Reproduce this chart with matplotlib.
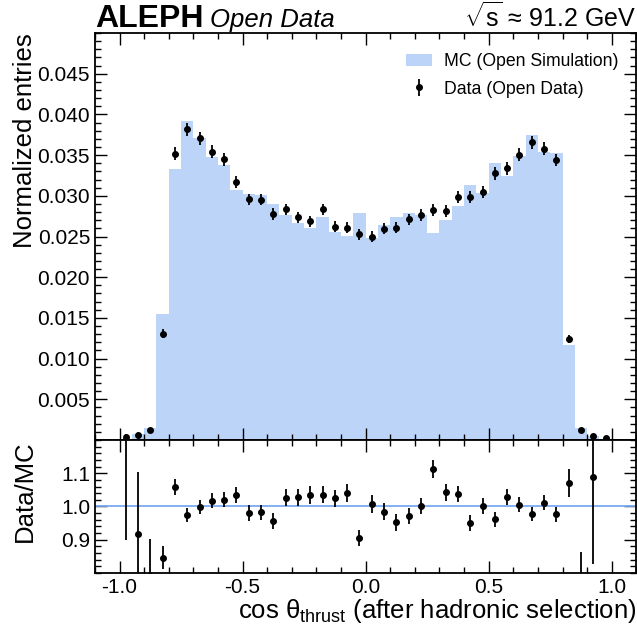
import numpy as np
import matplotlib
matplotlib.use("Agg")
import matplotlib.pyplot as plt
from matplotlib.ticker import MultipleLocator

plt.rcParams['font.family'] = ['Liberation Sans', 'DejaVu Sans']
plt.rcParams['mathtext.fontset'] = 'custom'
plt.rcParams['mathtext.rm'] = 'Liberation Sans'
plt.rcParams['mathtext.it'] = 'Liberation Sans:italic'
plt.rcParams['axes.unicode_minus'] = False

# cos(theta_thrust), 40 bins from -1 to 1
edges = np.linspace(-1.0, 1.0, 41)

mc = [0.0001, 0.0007, 0.00152, 0.01544, 0.03324, 0.03918, 0.03713, 0.03480, 0.03377, 0.03066,
      0.03017, 0.03005, 0.02903, 0.02759, 0.02661, 0.02600, 0.02735, 0.02559, 0.02505, 0.02788,
      0.02481, 0.02637, 0.02739, 0.02792, 0.02759, 0.02538, 0.02698, 0.02874, 0.03136, 0.03038,
      0.03406, 0.03242, 0.03488, 0.03742, 0.03537, 0.03521, 0.01163, 0.00152, 0.0005, 0.0]

data = [0.00042, 0.000643, 0.0012, 0.01307, 0.03517, 0.03816, 0.03705, 0.03541, 0.03447, 0.03169,
        0.02956, 0.02952, 0.02776, 0.02833, 0.02735, 0.02690, 0.02833, 0.02621, 0.02608, 0.02526,
        0.02498, 0.02596, 0.02608, 0.02710, 0.02763, 0.02825, 0.02812, 0.02981, 0.02981, 0.03046,
        0.03275, 0.03337, 0.03505, 0.03660, 0.03579, 0.03439, 0.01245, 0.00119, 0.000544, 0.0003]

data_err = [0.00033, 0.00013, 0.00017, 0.00055, 0.00080, 0.00082, 0.00080, 0.00078, 0.00077, 0.00073,
            0.00071, 0.00071, 0.00069, 0.00070, 0.00069, 0.00068, 0.00070, 0.00067, 0.00067, 0.00066,
            0.00066, 0.00067, 0.00067, 0.00068, 0.00069, 0.00070, 0.00070, 0.00072, 0.00072, 0.00073,
            0.00076, 0.00076, 0.00078, 0.00080, 0.00079, 0.00077, 0.00048, 0.00012, 0.00013, 0.00010]

mc = np.array(mc)
data = np.array(data)
data_err = np.array(data_err)
centers = 0.5 * (edges[1:] + edges[:-1])

ok = mc > 0
ratio = np.full_like(data, np.nan)
ratio_err = np.full_like(data, np.nan)
ratio[ok] = data[ok] / mc[ok]
ratio_err[ok] = data_err[ok] / mc[ok]

fill_col = '#bdd4f9'
line_col = '#78aaf2'

fig = plt.figure(figsize=(6.37, 6.26), dpi=100)
ax = fig.add_axes([0.149, 0.2971, 0.850, 0.6502])
rax = fig.add_axes([0.149, 0.0847, 0.850, 0.2124], sharex=ax)

ax.hist(centers, bins=edges, weights=mc, histtype='stepfilled', color=fill_col, lw=0,
        label='MC (Open Simulation)')
ax.errorbar(centers, data, yerr=data_err, fmt='o', color='k', ms=4, elinewidth=1.3,
            capsize=0, label='Data (Open Data)')

rax.axhline(1.0, color=line_col, lw=1.3)
rax.errorbar(centers, ratio, yerr=ratio_err, fmt='o', color='k', ms=4, elinewidth=1.3, capsize=0)

ax.set_xlim(-1.1, 1.1)
ax.set_ylim(0, 0.05)
rax.set_ylim(0.8, 1.2)

ax.yaxis.set_minor_locator(MultipleLocator(0.001))
ax.set_yticks([0.005, 0.010, 0.015, 0.020, 0.025, 0.030, 0.035, 0.040, 0.045])
ax.set_yticklabels(['0.005', '0.010', '0.015', '0.020', '0.025', '0.030', '0.035', '0.040', '0.045'])
ax.xaxis.set_major_locator(MultipleLocator(0.5))
ax.xaxis.set_minor_locator(MultipleLocator(0.1))
rax.set_yticks([0.9, 1.0, 1.1])
rax.yaxis.set_minor_locator(MultipleLocator(0.02))

for a in (ax, rax):
    a.tick_params(which='both', direction='in', top=True, right=True, labelsize=15, width=1.0)
    a.tick_params(which='major', length=8.5)
    a.tick_params(which='minor', length=4.5)
    for s in a.spines.values():
        s.set_linewidth(1.3)
ax.tick_params(labelbottom=False)

ax.set_ylabel('Normalized entries', fontsize=18.5, loc='top')
rax.set_ylabel('Data/MC', fontsize=18.5, loc='top')
ax.yaxis.set_label_coords(-0.107, 1.0)
rax.yaxis.set_label_coords(-0.107, 1.0)
rax.set_xlabel(r'cos θ$_{\mathrm{thrust}}$ (after hadronic selection)', fontsize=18.5, loc='right',
               labelpad=0)

ax.legend(loc='upper right', frameon=False, fontsize=12.7, handlelength=1.5, handletextpad=0.7,
          labelspacing=0.6, bbox_to_anchor=(0.997, 0.99))

ax.text(0.0, 1.015, 'ALEPH', transform=ax.transAxes, fontsize=23, fontweight='bold', va='baseline')
ax.text(0.212, 1.015, 'Open Data', transform=ax.transAxes, fontsize=18.5, style='italic', va='baseline')
ax.text(1.0, 1.015, r'$\sqrt{\mathrm{s}}$ ≈ 91.2 GeV', transform=ax.transAxes, fontsize=18, ha='right',
        va='baseline')

fig.savefig('out.png', dpi=100)
